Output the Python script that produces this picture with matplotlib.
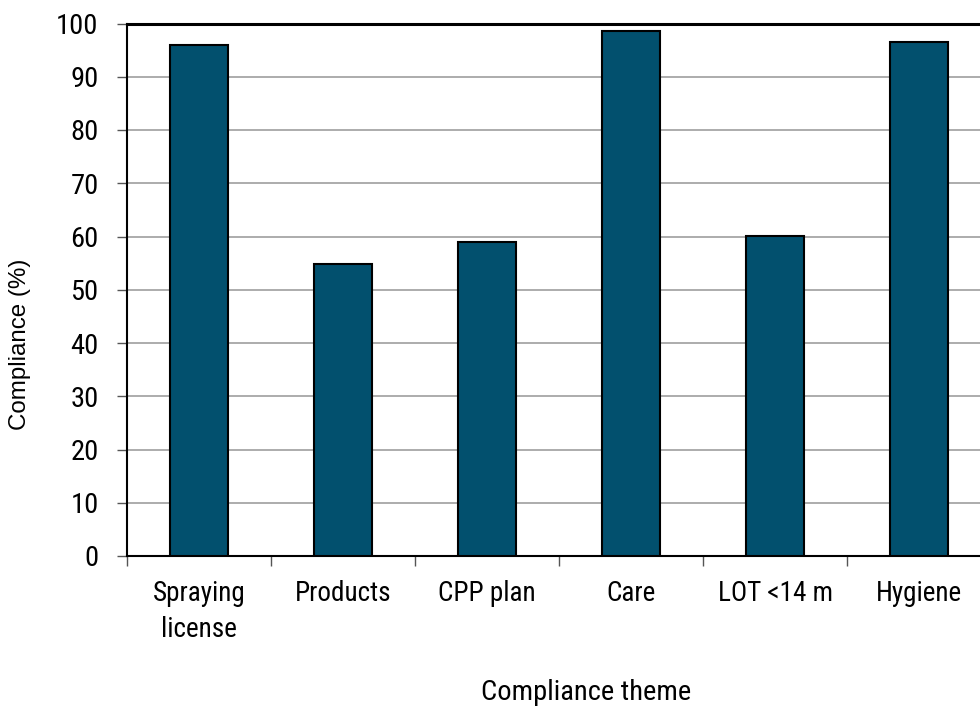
import numpy as np
import matplotlib.pyplot as plt
from matplotlib import font_manager

# Compliance per theme
themes = ["Spraying\nlicense", "Products", "CPP plan", "Care", "LOT <14 m", "Hygiene"]
compliance = [95.9, 54.9, 58.9, 98.6, 60.1, 96.6]
y_ticks = list(range(0, 101, 10))

# pick a condensed sans for ticks and the x label
installed = {f.name for f in font_manager.fontManager.ttflist}
narrow = next((f for f in ["Liberation Sans Narrow", "Arial Narrow", "Roboto Condensed",
                           "Archivo Narrow", "DejaVu Sans"] if f in installed), "DejaVu Sans")

fig = plt.figure(figsize=(9.8, 7.11), dpi=100)
ax = fig.add_axes([127 / 980, 155 / 711, 864 / 980, 532.5 / 711])

x = np.arange(len(themes))
ax.bar(x, compliance, width=0.4, color="#02506E", edgecolor="black", linewidth=1.5, zorder=3)

ax.set_xlim(-0.5, 5.5)
ax.set_ylim(0, 100)
ax.set_yticks(y_ticks)
ax.set_yticklabels([str(t) for t in y_ticks], fontfamily=narrow, fontsize=20.5)
ax.yaxis.grid(True, color="#A6A6A6", linewidth=1.3, zorder=0)
ax.tick_params(axis="y", length=7.5, width=1, color="#555555", pad=13)

# labels at bar centres, tick marks between categories
ax.set_xticks(x)
ax.set_xticklabels(themes, fontfamily=narrow, fontsize=19.5, linespacing=1.45)
ax.tick_params(axis="x", length=0, pad=17)
ax.set_xticks(np.arange(-0.5, 6, 1), minor=True)
ax.tick_params(axis="x", which="minor", length=7.5, width=1, color="#555555")

for side in ["left", "bottom", "top", "right"]:
    ax.spines[side].set_color("black")
ax.spines["left"].set_linewidth(1.5)
ax.spines["bottom"].set_linewidth(1.5)
ax.spines["top"].set_linewidth(2.2)

ax.set_ylabel("Compliance (%)", fontfamily=["Liberation Sans", "DejaVu Sans"], fontsize=17.4)
ax.yaxis.set_label_coords(-107 / 864, (556 - 344) / 532.5)
ax.set_xlabel("Compliance theme", fontfamily=narrow, fontsize=20.5)
ax.xaxis.set_label_coords((586 - 127) / 864, -(693 - 556) / 532.5)
ax.xaxis.label.set_va("center")
ax.yaxis.label.set_va("center")

fig.savefig("out.png", dpi=100)
